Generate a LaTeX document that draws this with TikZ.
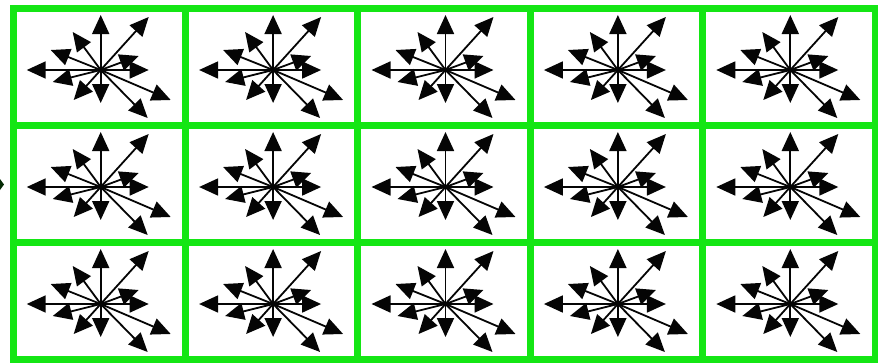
\documentclass[tikz,border=0pt]{standalone}
\usepackage{tikz}
\usetikzlibrary{arrows.meta}
\definecolor{gridgreen}{HTML}{14E614}
\definecolor{inkblack}{HTML}{050505}

\tikzset{
  gridline/.style={line width=7pt, gridgreen},
  spoke/.style={-{Triangle[length=19pt,width=17pt]}, line width=1.8pt, inkblack},
  pics/burst/.style={code={
    % twelve arrows out of one centre
    \foreach \dx/\dy in {0/-55, 48/-53, -28/-38, -50/-20, -74/0, -48/12,
                         -27/30, 0/33, 47/48, 70/30, 48/0, 38/-14}
      \draw[spoke] (0,0) -- (\dx,\dy);
  }}
}

\begin{document}
\begin{tikzpicture}[x=1pt, y=-1pt]
    \useasboundingbox (0,0) rectangle (878,362);

    % White background
    \fill[white] (0,0) rectangle (878,362);

    % Arrow bursts, one per cell
    \foreach \col in {0,...,4}
      \foreach \row in {0,...,2} {
        \pgfmathsetmacro{\cx}{13+172.4*(\col+0.5)+1.5}
        \pgfmathsetmacro{\cy}{8.5+117*(\row+0.5)+3}
        \pic at (\cx,\cy) {burst};
      }

    % Cut-off tip at the left edge
    \fill[inkblack!85!green] (0,179) -- (4,184.5) -- (0,190) -- cycle;

    % Green grid
    \foreach \col in {1,...,4}
      \draw[gridline] ({13+172.4*\col},8.5) -- ({13+172.4*\col},359.5);
    \foreach \row in {1,2}
      \draw[gridline] (13,{8.5+117*\row}) -- (875,{8.5+117*\row});
    \draw[gridline] (13,8.5) rectangle (875,359.5);
\end{tikzpicture}
\end{document}
